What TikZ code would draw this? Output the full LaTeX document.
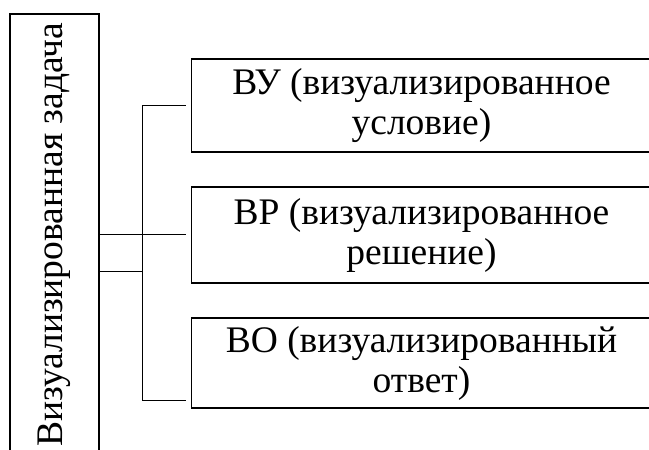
\documentclass[tikz,border=0pt]{standalone}
\usepackage{fontspec}
\setmainfont{Liberation Serif}
\begin{document}
\begin{tikzpicture}[x=1pt,y=1pt,
    box/.style={draw, line width=1.6pt, inner sep=0pt, align=center,
        font=\fontsize{37.5}{40}\selectfont},
    part/.style={box, minimum width=460pt},
    link/.style={line width=1pt}]
    \useasboundingbox (0,0) rectangle (649,450);
    \clip (0,0) rectangle (649,450);

    %% main task, cut at the bottom
    \node[box, rotate=90, minimum width=456pt, minimum height=89pt] (task) at (54.5,208)
        {\hspace*{14pt}Визуализированная задача};

    %% the three parts
    \node[part, minimum height=93pt] (cond) at (421.5,344.5) {ВУ (визуализированное\\условие)};
    \node[part, minimum height=96pt] (solv) at (421.5,215) {ВР (визуализированное\\решение)};
    \node[part, minimum height=90pt] (answ) at (421.5,87) {ВО (визуализированный\\ответ)};

    %% connectors
    \coordinate (trunk) at (142,0);
    \coordinate (ansin) at ([yshift=8pt]answ.south west);
    \coordinate (tap) at ([yshift=-37pt]task.south |- solv.west);
    \draw[link, shorten <=5pt, shorten >=5pt] (cond.west) -| (trunk |- ansin) -- (ansin);
    \draw[link, shorten >=5pt] (task.south |- solv.west) -- (solv.west);
    \draw[link] (tap) -- (trunk |- tap);
\end{tikzpicture}
\end{document}
